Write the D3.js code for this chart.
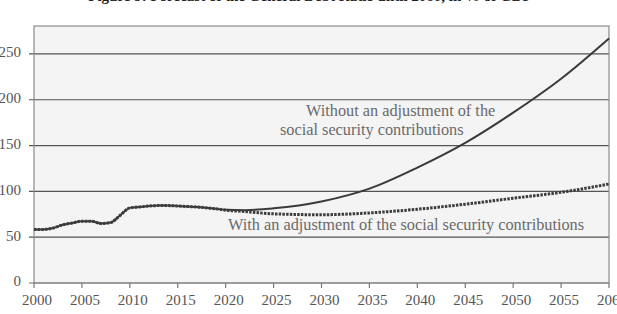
<html><head>
  <script src="https://d3js.org/d3.v7.min.js"></script>
  <style>
    body { margin:0; background:#fff; }
    text { font-family:"Liberation Serif", serif; }
  </style>
</head>
<body>
<svg id="chart" width="617" height="314"></svg>
<script>
  const title = "Figure 9: Forecast of the General Debt Ratio until 2060, in % of GDP";

  const years = [2000,2001,2002,2003,2004,2005,2006,2007,2008,2009,2010,2011,2012,2013,2014,2015,2016,2017,2018,2019,2020,2022,2025,2030,2035,2040,2045,2050,2055,2060];

  // without adjustment of the social security contributions (solid)
  const withoutAdj = [58.5,58.5,60,63.5,65.5,67.5,67.5,65,66,74,82,83,84,84.5,84.5,84,83.5,83,82,81,80,79.5,81.5,89,103,126,153,186,223,267];

  // with adjustment (dotted)
  const withAdj = [58.5,58.5,60,63.5,65.5,67.5,67.5,65,66,74,82,83,84,84.5,84.5,84,83.5,83,82,81,79.5,78,75.5,74.5,76.5,80.5,86,92.5,99,108];

  const yTicks = [0,50,100,150,200,250];
  const xTicks = d3.range(2000, 2061, 5);

  const labelWithout = ["Without an adjustment of the", "social security contributions"];
  const labelWith = "With an adjustment of the social security contributions";

  let svg = d3.select("svg#chart");

  const pLeft = 34, pRight = 609, pTop = 26, pBottom = 283;

  let x = d3.scaleLinear().domain([2000,2060]).range([pLeft,pRight]);
  let y = d3.scaleLinear().domain([0,280.5]).range([pBottom,pTop]);

  // title (cut off at the top)
  svg.append("text")
     .text(title)
     .attr("x",310)
     .attr("y",1)
     .style("text-anchor","middle")
     .style("font-weight","bold")
     .style("font-size","15px")
     .style("fill","#222");

  // plot background
  svg.append("rect")
     .attr("x",pLeft).attr("y",pTop)
     .attr("width",pRight-pLeft).attr("height",pBottom-pTop)
     .style("fill","#f4f4f4");

  // gridlines
  yTicks.forEach(d => {
    svg.append("line")
       .attr("x1",pLeft-5).attr("x2",pRight)
       .attr("y1",y(d)).attr("y2",y(d))
       .style("stroke", d == 0 ? "#777" : "#555")
       .style("stroke-width",1.2);

    svg.append("text")
       .text(d)
       .attr("x",21)
       .attr("y",y(d))
       .style("text-anchor","end")
       .style("dominant-baseline","middle")
       .style("font-size","15px")
       .style("fill","#555");
  });

  // frame
  svg.append("rect")
     .attr("x",pLeft).attr("y",pTop)
     .attr("width",pRight-pLeft).attr("height",pBottom-pTop)
     .style("fill","none")
     .style("stroke","#8a8a8a")
     .style("stroke-width",1.2);

  // x ticks
  xTicks.forEach(d => {
    svg.append("line")
       .attr("x1",x(d)).attr("x2",x(d))
       .attr("y1",pBottom).attr("y2",pBottom+5)
       .style("stroke","#777")
       .style("stroke-width",1.2);

    svg.append("text")
       .text(d)
       .attr("x",x(d)+3)
       .attr("y",305)
       .style("text-anchor","middle")
       .style("font-size","15px")
       .style("fill","#555");
  });

  let line = d3.line()
               .x(d => x(d[0]))
               .y(d => y(d[1]))
               .curve(d3.curveMonotoneX);

  svg.append("path")
     .datum(years.map((d,i) => [d, withoutAdj[i]]))
     .attr("d", line)
     .style("fill","none")
     .style("stroke","#3a3a3a")
     .style("stroke-width",2);

  svg.append("path")
     .datum(years.map((d,i) => [d, withAdj[i]]))
     .attr("d", line)
     .style("fill","none")
     .style("stroke","#3d3d3d")
     .style("stroke-width",3)
     .style("stroke-dasharray","2.5,1.2");

  labelWithout.forEach((t,i) => {
    svg.append("text")
       .text(t)
       .attr("x", i == 0 ? 306 : 280)
       .attr("y", i == 0 ? 116 : 135)
       .style("font-size","16.3px")
       .style("fill","#6a6a6a");
  });

  svg.append("text")
     .text(labelWith)
     .attr("x",228)
     .attr("y",230)
     .style("font-size","16.3px")
     .style("fill","#6a6a6a");
</script>
</body>
</html>
